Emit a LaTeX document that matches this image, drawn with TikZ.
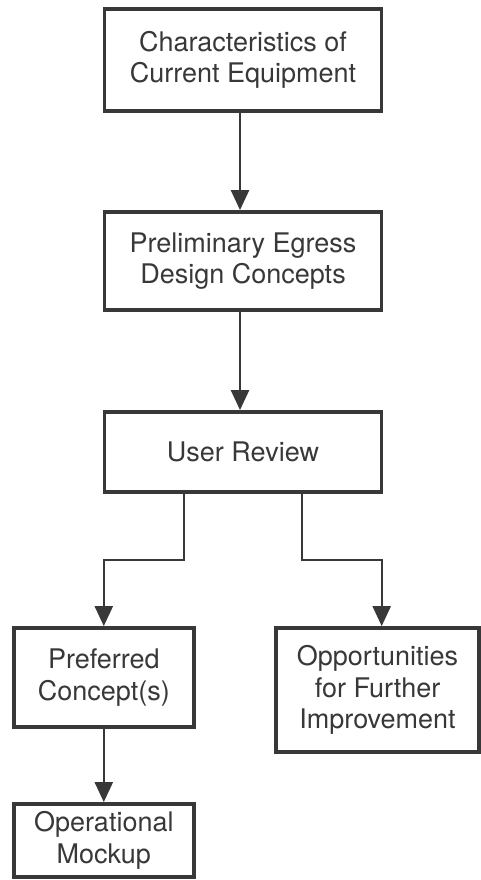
\documentclass[tikz,border=0pt]{standalone}
\usepackage{fontspec}
\setmainfont{TeX Gyre Heros}
\usetikzlibrary{arrows.meta, calc}
\definecolor{ink}{gray}{0.22}
\tikzset{%
    box/.style={rectangle, draw=ink, line width=3.8pt, text=ink, align=center, inner sep=0pt,
        font=\fontsize{27}{31.5}\selectfont},
    con/.style={draw=ink, line width=2.4pt},
    cona/.style={con, -{Triangle[length=20pt, width=18pt]}},
}
\begin{document}
\begin{tikzpicture}[x=1pt, y=1pt]
    \useasboundingbox (0,0) rectangle (481,-880);
    \node [box, minimum width=277, minimum height=102] (chars) at (243,-59.7) {Characteristics of\\Current Equipment};
    \node [box, minimum width=277, minimum height=98] (concepts) at (243,-261) {Preliminary Egress\\Design Concepts};
    \node [box, minimum width=277, minimum height=80] (review) at (243,-452) {User Review};
    \node [box, minimum width=180, minimum height=99] (pref) at (103.8,-677.5) {Preferred\\Concept(s)};
    \node [box, minimum width=203, minimum height=124] (opp) at (377.5,-690) {Opportunities\\for Further\\Improvement};
    \node [box, minimum width=180, minimum height=73] (mock) at (103.8,-840.5) {Operational\\Mockup};
    \coordinate (ljog) at (103.8,-560);
    \coordinate (rjog) at (381.7,-560);
    \draw [cona] ([xshift=-3pt]chars.south) -- ([xshift=-3pt]concepts.north);
    \draw [cona] ([xshift=-3pt]concepts.south) -- ([xshift=-3pt]review.north);
    \draw [cona] ([xshift=-59pt]review.south) |- (ljog) -- (pref.north);
    \draw [cona] ([xshift=59pt]review.south) |- (rjog) -- (rjog |- opp.north);
    \draw [cona] (pref.south) -- (mock.north);
\end{tikzpicture}
\end{document}
